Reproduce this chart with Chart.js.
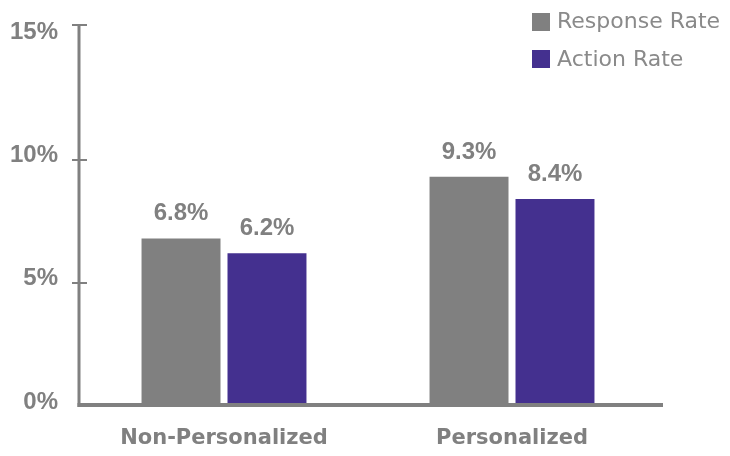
<!DOCTYPE html>
<html>
<head>
<meta charset="utf-8">
<script src="https://cdn.jsdelivr.net/npm/chart.js@4"></script>
<style>
  html, body { margin: 0; padding: 0; background: #ffffff; }
  #c { display: block; }
</style>
</head>
<body>
<canvas id="c" width="730" height="456"></canvas>
<script>
const categories = ['Non-Personalized', 'Personalized'];
const seriesNames = ['Response Rate', 'Action Rate'];
const responseRate = [6.8, 9.3];
const actionRate = [6.2, 8.4];
const yTicks = [0, 5, 10, 15];

const GRAY = '#808080';
const PURPLE = '#44308f';
const TEXT = '#808080';

const axisPlugin = {
  id: 'axisLines',
  afterDatasetsDraw(chart) {
    const ctx = chart.ctx;
    const y = chart.scales.y;
    const area = chart.chartArea;
    const y0 = y.getPixelForValue(0);
    ctx.save();
    ctx.strokeStyle = GRAY;
    ctx.lineCap = 'butt';
    ctx.lineWidth = 3;
    ctx.beginPath();
    ctx.moveTo(area.left - 1, 25);
    ctx.lineTo(area.left - 1, y0 + 1);
    ctx.stroke();
    ctx.lineWidth = 2;
    yTicks.forEach(v => {
      if (v === 0) return;
      const py = Math.round(y.getPixelForValue(v));
      const yy = v === 15 ? 25 : py;
      ctx.beginPath();
      ctx.moveTo(area.left - 8, yy);
      ctx.lineTo(area.left + 7, yy);
      ctx.stroke();
    });
    ctx.lineWidth = 4;
    ctx.beginPath();
    ctx.moveTo(area.left - 2.5, y0 - 1);
    ctx.lineTo(663, y0 - 1);
    ctx.stroke();
    ctx.restore();
  }
};

const labelPlugin = {
  id: 'valueLabels',
  afterDatasetsDraw(chart) {
    const ctx = chart.ctx;
    ctx.save();
    ctx.font = 'bold 24px "Liberation Sans", Arial, sans-serif';
    ctx.fillStyle = TEXT;
    ctx.textAlign = 'center';
    ctx.textBaseline = 'alphabetic';
    chart.data.datasets.forEach((ds, i) => {
      const meta = chart.getDatasetMeta(i);
      meta.data.forEach((el, j) => {
        ctx.fillText(ds.data[j].toFixed(1) + '%', el.x, el.y - 18);
      });
    });
    ctx.restore();
  }
};

const legendPlugin = {
  id: 'stackLegend',
  afterDraw(chart) {
    const ctx = chart.ctx;
    ctx.save();
    ctx.font = '22px "DejaVu Sans", sans-serif';
    ctx.textBaseline = 'alphabetic';
    ctx.textAlign = 'left';
    const rows = [{ boxTop: 13, base: 28 }, { boxTop: 50, base: 66 }];
    chart.data.datasets.forEach((ds, i) => {
      const r = rows[i];
      ctx.fillStyle = ds.backgroundColor;
      ctx.fillRect(532, r.boxTop, 18, 18);
      ctx.fillStyle = '#8a8a8a';
      ctx.fillText(ds.label, 557, r.base);
    });
    ctx.restore();
  }
};

new Chart(document.getElementById('c'), {
  type: 'bar',
  data: {
    labels: categories,
    datasets: [
      { label: seriesNames[0], data: responseRate, backgroundColor: GRAY },
      { label: seriesNames[1], data: actionRate, backgroundColor: PURPLE }
    ]
  },
  options: {
    responsive: false,
    devicePixelRatio: 1,
    animation: false,
    layout: { padding: { left: 0, right: 74, top: 31, bottom: 0 } },
    datasets: {
      bar: { categoryPercentage: 0.597, barPercentage: 0.9186 }
    },
    plugins: {
      legend: { display: false },
      tooltip: { enabled: false }
    },
    scales: {
      x: {
        grid: { display: false, drawTicks: false },
        border: { display: false },
        ticks: {
          color: TEXT,
          padding: 20,
          font: { family: '"DejaVu Sans", sans-serif', weight: 'bold', size: 21 }
        },
        afterFit(scale) { scale.height = 50; }
      },
      y: {
        min: 0,
        max: 15,
        afterBuildTicks(scale) { scale.ticks = yTicks.map(v => ({ value: v })); },
        grid: { display: false, drawTicks: false },
        border: { display: false },
        ticks: {
          color: TEXT,
          padding: 22,
          labelOffset: -4,
          font: { family: '"Liberation Sans", Arial, sans-serif', weight: 'bold', size: 24 },
          callback: v => v + '%'
        },
        afterFit(scale) { scale.width = 80; }
      }
    }
  },
  plugins: [axisPlugin, labelPlugin, legendPlugin]
});
</script>
</body>
</html>
